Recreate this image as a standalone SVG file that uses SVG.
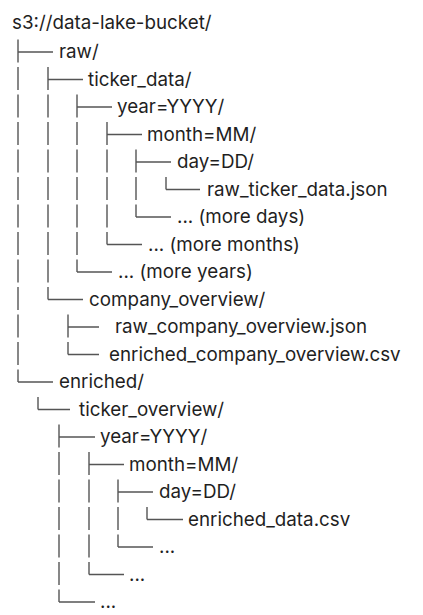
<svg xmlns="http://www.w3.org/2000/svg" width="423" height="615" viewBox="0 0 423 615">
<style>
text{font-family:Inter,"Noto Sans","Liberation Sans",sans-serif;font-size:18.8px;fill:#1f1f1f}
.v{stroke:#555;stroke-width:1.4;fill:none;stroke-dasharray:23 4.5}
.h{stroke:#555;stroke-width:1.4;fill:none}
</style>
<rect width="423" height="615" fill="#fff"/>
<g id="connectors">
<path class="v" d="M18 39.5V382M48 67V299.5M77 94.5V272M107 122V244.5M136 149.5V217M166 177V189.5M68 314.5V354.5M38 397V409.5M59 424.5V602M89 452V574.5M118 479.5V547M147 507V519.5"/>
<path class="h" d="M18 52H53M48 79.5H83M77 107H112M107 134.5H142M136 162H171M166 189.5H200M136 217H171M107 244.5H142M77 272H112M48 299.5H83M68 327H99M68 354.5H99M18 382H53M38 409.5H70M59 437H95M89 464.5H124M118 492H153M147 519.5H183M118 547H153M89 574.5H124M59 602H95"/>
</g>
<g id="root"><text x="12" y="28.5">s3://data-lake-bucket/</text></g>
<g id="raw"><text x="59" y="58.3">raw/</text></g>
<g id="ticker_data"><text x="88" y="85.8">ticker_data/</text></g>
<g id="raw_year"><text x="117" y="113.3">year=YYYY/</text></g>
<g id="raw_month"><text x="147" y="140.8">month=MM/</text></g>
<g id="raw_day"><text x="177" y="168.3">day=DD/</text></g>
<g id="raw_ticker_data_json"><text x="207" y="195.8">raw_ticker_data.json</text></g>
<g id="more_days"><text x="177" y="223.3">... (more days)</text></g>
<g id="more_months"><text x="148" y="250.8">... (more months)</text></g>
<g id="more_years"><text x="118" y="278.3">... (more years)</text></g>
<g id="company_overview"><text x="89" y="305.8">company_overview/</text></g>
<g id="raw_company_overview_json"><text x="115" y="333.3">raw_company_overview.json</text></g>
<g id="enriched_company_overview_csv"><text x="109" y="360.8">enriched_company_overview.csv</text></g>
<g id="enriched"><text x="59" y="388.3">enriched/</text></g>
<g id="ticker_overview"><text x="79" y="415.8">ticker_overview/</text></g>
<g id="enr_year"><text x="100" y="443.3">year=YYYY/</text></g>
<g id="enr_month"><text x="129" y="470.8">month=MM/</text></g>
<g id="enr_day"><text x="159" y="498.3">day=DD/</text></g>
<g id="enriched_data_csv"><text x="188" y="525.8">enriched_data.csv</text></g>
<g id="enr_more_days"><text x="159" y="553.3">...</text></g>
<g id="enr_more_months"><text x="129" y="580.8">...</text></g>
<g id="enr_more_years"><text x="100" y="608.3">...</text></g>
</svg>
